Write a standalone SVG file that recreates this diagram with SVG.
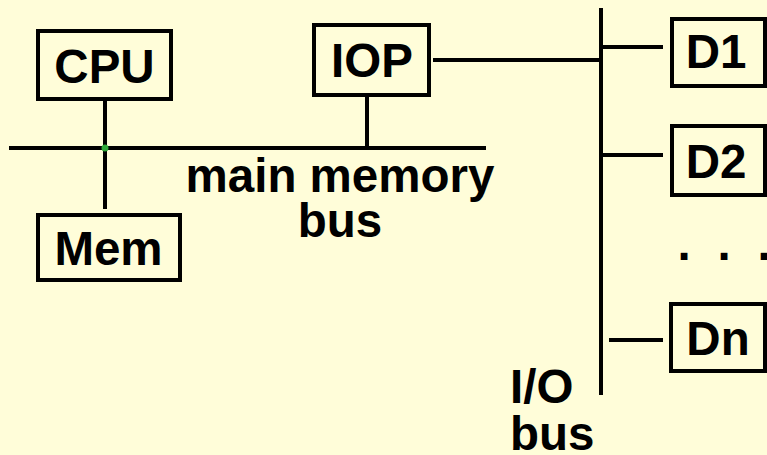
<svg xmlns="http://www.w3.org/2000/svg" width="767" height="455" viewBox="0 0 767 455">
<style>
.box{fill:#FFFDD9;stroke:#000;stroke-width:4}
.ln{stroke:#000;stroke-width:4;fill:none}
.t{font-family:"Liberation Sans",Arial,sans-serif;font-weight:bold;font-size:47.5px;fill:#000}
.c{text-anchor:middle}
</style>
<rect width="767" height="455" fill="#FFFDD9"/>
<g id="connectors">
<line class="ln" x1="9" y1="148" x2="486" y2="148"/>
<line class="ln" x1="105" y1="101" x2="105" y2="209"/>
<line class="ln" x1="367" y1="97" x2="367" y2="148"/>
<line class="ln" x1="433" y1="60" x2="601" y2="60"/>
<line class="ln" x1="601" y1="8" x2="601" y2="395"/>
<line class="ln" x1="601" y1="47" x2="663" y2="47"/>
<line class="ln" x1="601" y1="155" x2="663" y2="155"/>
<line class="ln" x1="609" y1="340" x2="663" y2="340"/>
<circle cx="105" cy="148" r="3.5" fill="#2FA83A"/>
</g>
<g id="cpu"><rect class="box" x="38" y="31" width="133" height="68"/><text class="t c" x="104.5" y="83">CPU</text></g>
<g id="mem"><rect class="box" x="38" y="215" width="142" height="65"/><text class="t c" x="108.5" y="265">Mem</text></g>
<g id="iop"><rect class="box" x="314" y="25" width="115" height="70"/><text class="t c" x="372" y="77">IOP</text></g>
<g id="d1"><rect class="box" x="672" y="19" width="93" height="67"/><text class="t c" x="716" y="68">D1</text></g>
<g id="d2"><rect class="box" x="672" y="126" width="93" height="69"/><text class="t c" x="716" y="178">D2</text></g>
<g id="dn"><rect class="box" x="671" y="304" width="94" height="67"/><text class="t c" x="718" y="355">Dn</text></g>
<g id="labels">
<text class="t c" x="340" y="192">main memory</text>
<text class="t c" x="340" y="237">bus</text>
<text class="t" x="510" y="403">I/O</text>
<text class="t" x="510" y="450">bus</text>
<text class="t" x="677.5 717.5 757.5" y="260">...</text>
</g>
</svg>
